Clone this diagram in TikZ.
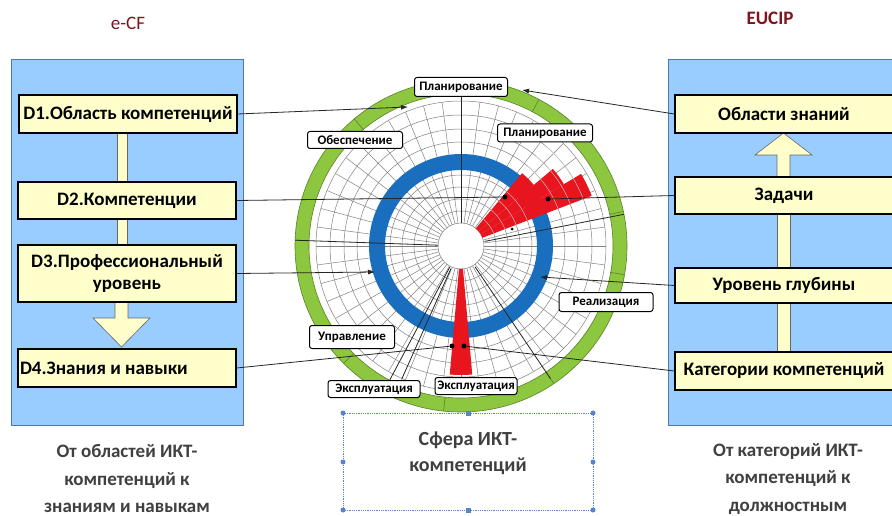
\documentclass[tikz,border=0pt]{standalone}
\usepackage{fontspec}
\setmainfont{Carlito}
\usetikzlibrary{arrows.meta,calc}
\definecolor{panelblue}{RGB}{153,204,255}
\definecolor{panelborder}{RGB}{80,120,170}
\definecolor{boxyellow}{RGB}{255,255,204}
\definecolor{ringgreen}{RGB}{141,198,63}
\definecolor{ringdark}{RGB}{90,130,40}
\definecolor{ringblue}{RGB}{25,110,190}
\definecolor{wedgered}{RGB}{232,20,30}
\definecolor{gridgray}{RGB}{130,130,130}
\definecolor{titlered}{RGB}{128,20,30}
\definecolor{txtgray}{RGB}{64,64,64}
\definecolor{selblue}{RGB}{90,130,200}
\begin{document}
\begin{tikzpicture}[x=1pt,y=-1pt,
  panel/.style={draw=panelborder, fill=panelblue, line width=0.8pt},
  ybox/.style={draw=black, fill=boxyellow, line width=1.3pt, font=\bfseries\fontsize{19}{22}\selectfont, inner sep=0pt, minimum width=218pt, align=center},
  bar/.style={draw=black!60, fill=boxyellow, line width=0.6pt},
  lbl/.style={draw=black, fill=white, rounded corners=2.5pt, line width=1pt, font=\bfseries\fontsize{13}{15}\selectfont, inner sep=0pt},
  conn/.style={draw=black!85, line width=0.8pt},
  tip/.style={-{Latex[length=7pt,width=5pt]}},
  dot/.style={circle, fill=black, inner sep=0pt, minimum size=5pt},
  gridl/.style={draw=gridgray, line width=0.5pt},
  axis/.style={draw=black!85, line width=0.8pt},
  handle/.style={circle, fill=selblue, inner sep=0pt, minimum size=5pt},
  hsq/.style={rectangle, fill=selblue, inner sep=0pt, minimum size=5pt},
  bottomtxt/.style={font=\bfseries\fontsize{19}{27.5}\selectfont, text=txtgray, align=center},
]
\useasboundingbox (0,0) rectangle (892,516);
\fill[white] (0,0) rectangle (892,516);

% titles
\node[text=titlered, font=\fontsize{19}{21}\selectfont] (tl) at (128,23) {e-CF};
\node[text=titlered, font=\bfseries\fontsize{19}{21}\selectfont] (tr) at (770,18) {EUCIP};

% panels
\path[panel] (11,59) rectangle (243,425);
\path[panel] (668,59) rectangle (900,425);

% left connectors (bars and block arrow)
\path[bar] (117,133) rectangle (127,182);
\path[bar] (117,219) rectangle (127,245);
\path[bar] (115,302) -- (115,318) -- (93,318) -- (121.5,347) -- (150,318) -- (128,318) -- (128,302) -- cycle;
% right connectors
\path[bar] (777,214) rectangle (790,268);
\path[bar] (777,303) rectangle (790,352);
\path[bar] (777,177) -- (777,155) -- (755,155) -- (783.5,133) -- (812,155) -- (790,155) -- (790,177) -- cycle;

% left boxes
\node[ybox, minimum height=38pt] (D1) at (128,114) {D1.Область компетенций};
\node[ybox, minimum height=37pt] (D2) at (127,200.5) {D2.Компетенции};
\node[ybox, minimum height=57pt] (D3) at (127,273.5) {D3.Профессиональный\\уровень};
\node[ybox, minimum height=38pt] (D4) at (127,368) {\makebox[214pt][l]{D4.Знания и навыки}};

% right boxes
\node[ybox, minimum height=38pt] (R1) at (784,114) {Области знаний};
\node[ybox, minimum height=37pt] (R2) at (784,195.5) {Задачи};
\node[ybox, minimum height=35pt] (R3) at (784,285.5) {Уровень глубины};
\node[ybox, minimum height=38pt] (R4) at (784,371) {Категории компетенций};

% bottom texts
\node[bottomtxt] (bl) at (127,479) {От областей ИКТ-\\компетенций к\\знаниям и навыкам};
\node[bottomtxt] (br) at (788,479) {От категорий ИКТ-\\компетенций к\\должностным};

% wheel
\coordinate (C) at (461,246);
\begin{scope}[shift={(C)}, x=1pt, y=1pt]
  % green ring
  \draw[ringgreen, line width=14pt] (0,0) circle[radius=159];
  \draw[ringdark, line width=0.6pt] (0,0) circle[radius=152];
  \draw[ringdark, line width=0.6pt] (0,0) circle[radius=166];
  \foreach \a in {12,-10,-56,-96,-135,178,130,62} \draw[ringdark, line width=0.6pt] (\a:152) -- (\a:166);
  % grid
  \foreach \r in {35,47,59,71,104,117,131,145} \draw[gridl] (0,0) circle[radius=\r];
  \foreach \a in {0,7.5,...,359} \draw[gridl] (\a:23) -- (\a:145);
  % blue ring
  \draw[ringblue, line width=16pt] (0,0) circle[radius=84];
  % hole
  \fill[white] (0,0) circle[radius=23];
  \draw[gridl] (0,0) circle[radius=23];
  % red wedges
  \fill[wedgered] (40:23) arc[start angle=40, end angle=50, radius=23] -- (50:95) arc[start angle=50, end angle=40, radius=95] -- cycle;
  \fill[wedgered] (31:23) arc[start angle=31, end angle=40, radius=23] -- (40:120) arc[start angle=40, end angle=31, radius=120] -- cycle;
  \fill[wedgered] (21:23) arc[start angle=21, end angle=31, radius=23] -- (31:140) arc[start angle=31, end angle=21, radius=140] -- cycle;
  \fill[wedgered] (-95:23) arc[start angle=-95, end angle=-85, radius=23] -- (-85:129) arc[start angle=-85, end angle=-95, radius=129] -- cycle;
  % gridlines over red
  \foreach \r in {35,47,59,71,104,117,131} \draw[draw=white!70!gridgray, line width=0.4pt] (21:\r) arc[start angle=21, end angle=50, radius=\r];
  % axis lines
  \draw[axis] (178:23) -- (178:166);
  \draw[axis] (11:24) -- (11:166);
  \draw[axis] (-56:25) -- (-56:160);
  \draw[axis] (-114:25) -- (-114:146);
  \draw[axis] (-118:24) -- (-118:152);
  \coordinate (hT) at (90:23);
  \coordinate (hB) at (-90:23);
\end{scope}

% labels on the wheel
\node[lbl, minimum width=93pt, minimum height=19pt] (Ptop) at (461,87) {Планирование};
\node[lbl, minimum width=95pt, minimum height=17pt] (Obes) at (355,140) {Обеспечение};
\node[lbl, minimum width=95pt, minimum height=18pt] (Pright) at (545,133) {Планирование};
\node[lbl, minimum width=94pt, minimum height=19pt] (Real) at (606,302) {Реализация};
\node[lbl, minimum width=85pt, minimum height=23pt] (Upr) at (352,337) {Управление};
\node[lbl, minimum width=92pt, minimum height=17pt] (ExL) at (374,389) {Эксплуатация};
\node[lbl, minimum width=82pt, minimum height=17pt] (ExR) at (476,386) {Эксплуатация};

\draw[axis] (hT) -- (Ptop.south);

% connector targets
\coordinate (a1) at (408,107);
\coordinate (a2) at (522,90);
\coordinate (a3) at (375,272);
\coordinate (a4) at (540,277);
\node[dot] (d1) at (505,197) {};
\node[dot] (d2) at (548,199) {};
\node[dot] (d3) at (452,346) {};
\node[dot] (d4) at (464,346) {};
\node[dot, minimum size=3pt] (d5) at (512,229) {};

% connectors
\draw[conn, tip] (D1.east) -- (a1);
\draw[conn] (D2.east) -- (d1);
\draw[conn, tip] (D3.east) -- (a3);
\draw[conn] (D4.east) -- (d3);
\draw[conn, tip] (R1.west) -- (a2);
\draw[conn] (R2.west) -- (d2);
\draw[conn, tip] (R3.west) -- (a4);
\draw[conn] (R4.west) -- (d4);

% selection box with text
\draw[selblue, densely dotted, line width=0.8pt] (343,413) rectangle (593,510);
\node[font=\bfseries\fontsize{20}{26}\selectfont, text=txtgray, align=center] (sf) at (468,453) {Сфера ИКТ-\\компетенций};
\node[handle] (h1) at (343,413) {};
\node[handle] (h2) at (593,413) {};
\node[handle] (h3) at (343,510) {};
\node[handle] (h4) at (593,510) {};
\node[handle] (h5) at (343,462) {};
\node[handle] (h6) at (593,462) {};
\node[hsq] (h7) at (468,413) {};
\node[hsq] (h8) at (468,510) {};
\end{tikzpicture}
\end{document}
